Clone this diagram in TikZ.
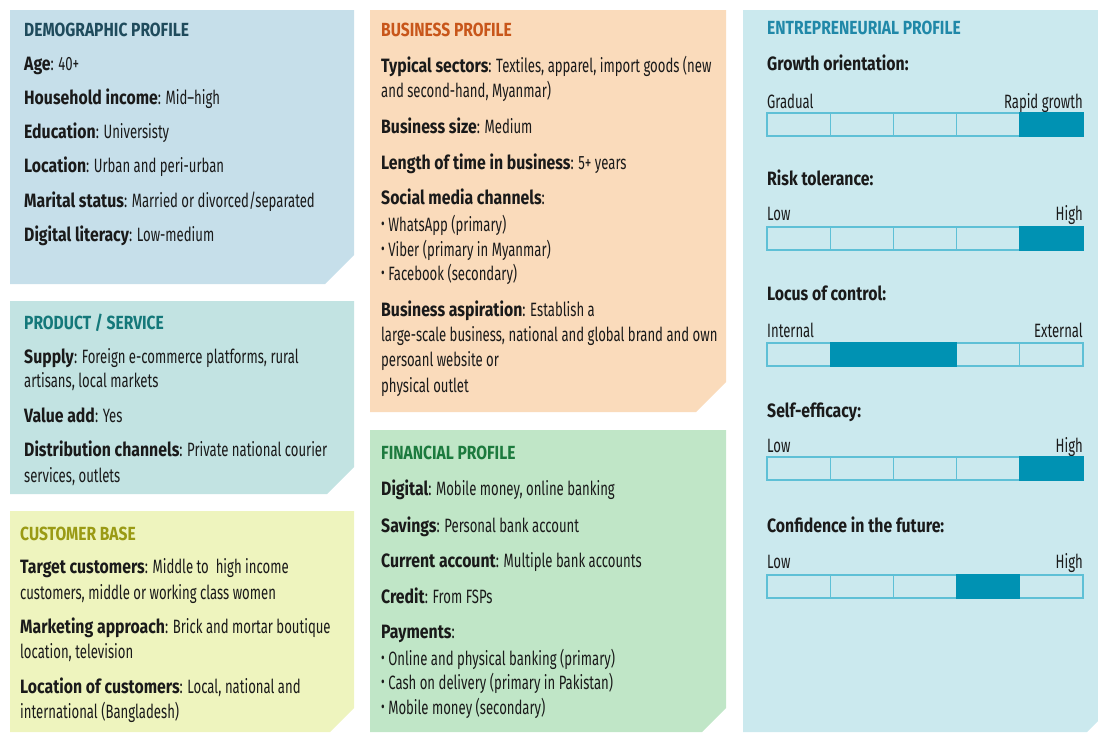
\documentclass[tikz,border=0pt]{standalone}
\usepackage{fontspec}
\setmainfont{Fira Sans}[FakeStretch=0.68,BoldFeatures={FakeStretch=0.82}]
\definecolor{demoBG}{HTML}{C6DFEA}
\definecolor{prodBG}{HTML}{C2E3E2}
\definecolor{custBG}{HTML}{EEF4BE}
\definecolor{busiBG}{HTML}{FADBBB}
\definecolor{finBG}{HTML}{C0E6C7}
\definecolor{entBG}{HTML}{CBE9EE}
\definecolor{demoT}{HTML}{1F4B5C}
\definecolor{prodT}{HTML}{14787A}
\definecolor{custT}{HTML}{9A9A14}
\definecolor{busiT}{HTML}{C8561A}
\definecolor{finT}{HTML}{1C7A3E}
\definecolor{entT}{HTML}{2088A8}
\definecolor{cellLine}{HTML}{5EC0D6}
\definecolor{cellFill}{HTML}{0092B3}
\definecolor{ink}{HTML}{1A1A1A}
\newcommand\cellrow[3]{% #1 name prefix, #2 top y, #3 list of filled cells
  \foreach \i in {0,...,4} {
    \draw[cellbox] ({767+63.2*\i},#2) rectangle ++(63.2,23);
  }
  \foreach \i in {#3} {
    \fill[cellFill] ({767+63.2*(\i-1)-0.6},#2-0.6) rectangle ++(64.4,24.2);
  }
}
\newcommand\blt{\raisebox{1.5pt}{\scalebox{0.85}{\textbullet}}\ }
\begin{document}
\begin{tikzpicture}[x=1pt,y=-1pt,
  txt/.style={anchor=base west,inner sep=0pt,text=ink,font=\fontsize{19.3}{21}\selectfont},
  rtxt/.style={anchor=base east,inner sep=0pt,text=ink,font=\fontsize{19.3}{21}\selectfont},
  ttl/.style={anchor=base west,inner sep=0pt,font=\fontsize{19}{21}\selectfont\bfseries},
  cellbox/.style={draw=cellLine,line width=1.3pt}]
\useasboundingbox (0,0) rectangle (1098,732);
% boxes
\fill[demoBG] (10,10) -- (354,10) -- (354,255) -- (325,284) -- (10,284) -- cycle;
\fill[prodBG] (10,301) -- (354,301) -- (354,467) -- (327,494) -- (10,494) -- cycle;
\fill[custBG] (10,511) -- (354,511) -- (354,708) -- (330,732) -- (10,732) -- cycle;
\fill[busiBG] (370,10) -- (726,10) -- (726,382) -- (696,412) -- (370,412) -- cycle;
\fill[finBG] (370,430) -- (726,430) -- (726,708) -- (702,732) -- (370,732) -- cycle;
\fill[entBG] (743,10) -- (1098,10) -- (1098,721) -- (1087,732) -- (743,732) -- cycle;

% Demographic
\node[ttl,text=demoT] (dT) at (24,36) {DEMOGRAPHIC PROFILE};
\node[txt] (d1) at (24,70) {\textbf{Age}: 40+};
\node[txt] (d2) at (24,104) {\textbf{Household income}: Mid–high};
\node[txt] (d3) at (24,138) {\textbf{Education}: Universisty};
\node[txt] (d4) at (24,172) {\textbf{Location}: Urban and peri-urban};
\node[txt] (d5) at (24,207) {\textbf{Marital status}: Married or divorced/separated};
\node[txt] (d6) at (24,241) {\textbf{Digital literacy}: Low-medium};

% Product / service
\node[ttl,text=prodT] (pT) at (24,329) {PRODUCT / SERVICE};
\node[txt] (p1) at (24,363) {\textbf{Supply}: Foreign e-commerce platforms, rural};
\node[txt] (p2) at (24,387) {artisans, local markets};
\node[txt] (p3) at (24,422) {\textbf{Value add}: Yes};
\node[txt] (p4) at (24,456) {\textbf{Distribution channels}: Private national courier};
\node[txt] (p5) at (24,482) {services, outlets};

% Customer base
\node[ttl,text=custT] (cT) at (20,540) {CUSTOMER BASE};
\node[txt] (c1) at (20,573) {\textbf{Target customers}: Middle to\ \ high income};
\node[txt] (c2) at (20,599) {customers, middle or working class women};
\node[txt] (c3) at (20,633) {\textbf{Marketing approach}: Brick and mortar boutique};
\node[txt] (c4) at (20,658) {location, television};
\node[txt] (c5) at (20,693) {\textbf{Location of customers}: Local, national and};
\node[txt] (c6) at (20,718) {international (Bangladesh)};

% Business profile
\node[ttl,text=busiT] (bT) at (381,36) {BUSINESS PROFILE};
\node[txt] (b1) at (381,72) {\textbf{Typical sectors}: Textiles, apparel, import goods (new};
\node[txt] (b2) at (381,97) {and second-hand, Myanmar)};
\node[txt] (b3) at (381,133) {\textbf{Business size}: Medium};
\node[txt] (b4) at (381,169) {\textbf{Length of time in business}: 5+ years};
\node[txt] (b5) at (381,204) {\textbf{Social media channels}:};
\node[txt] (b6) at (381,231) {\blt WhatsApp (primary)};
\node[txt] (b7) at (381,256) {\blt Viber (primary in Myanmar)};
\node[txt] (b8) at (381,280) {\blt Facebook (secondary)};
\node[txt] (b9) at (381,316) {\textbf{Business aspiration}: Establish a};
\node[txt] (b10) at (381,341) {large-scale business, national and global brand and own};
\node[txt] (b11) at (381,366) {persoanl website or};
\node[txt] (b12) at (381,392) {physical outlet};

% Financial profile
\node[ttl,text=finT] (fT) at (381,459) {FINANCIAL PROFILE};
\node[txt] (f1) at (381,495) {\textbf{Digital}: Mobile money, online banking};
\node[txt] (f2) at (381,532) {\textbf{Savings}: Personal bank account};
\node[txt] (f3) at (381,567) {\textbf{Current account}: Multiple bank accounts};
\node[txt] (f4) at (381,603) {\textbf{Credit}: From FSPs};
\node[txt] (f5) at (381,638) {\textbf{Payments}:};
\node[txt] (f6) at (381,665) {\blt Online and physical banking (primary)};
\node[txt] (f7) at (381,689) {\blt Cash on delivery (primary in Pakistan)};
\node[txt] (f8) at (381,714) {\blt Mobile money (secondary)};

% Entrepreneurial profile
\node[ttl,text=entT] (eT) at (767,34) {ENTREPRENEURIAL PROFILE};
\node[txt] (e1) at (767,70) {\textbf{Growth orientation:}};
\node[txt] (e1l) at (767,108) {Gradual};
\node[rtxt] (e1r) at (1083,108) {Rapid growth};
\cellrow{g}{113}{5}
\node[txt] (e2) at (767,185) {\textbf{Risk tolerance:}};
\node[txt] (e2l) at (767,220) {Low};
\node[rtxt] (e2r) at (1083,220) {High};
\cellrow{r}{227}{5}
\node[txt] (e3) at (767,300) {\textbf{Locus of control:}};
\node[txt] (e3l) at (767,337) {Internal};
\node[rtxt] (e3r) at (1083,337) {External};
\cellrow{l}{343}{2,3}
\node[txt] (e4) at (767,417) {\textbf{Self-efficacy:}};
\node[txt] (e4l) at (767,452) {Low};
\node[rtxt] (e4r) at (1083,452) {High};
\cellrow{s}{457}{5}
\node[txt] (e5) at (767,532) {\textbf{Confidence in the future:}};
\node[txt] (e5l) at (767,568) {Low};
\node[rtxt] (e5r) at (1083,568) {High};
\cellrow{c}{575}{4}
\end{tikzpicture}
\end{document}
